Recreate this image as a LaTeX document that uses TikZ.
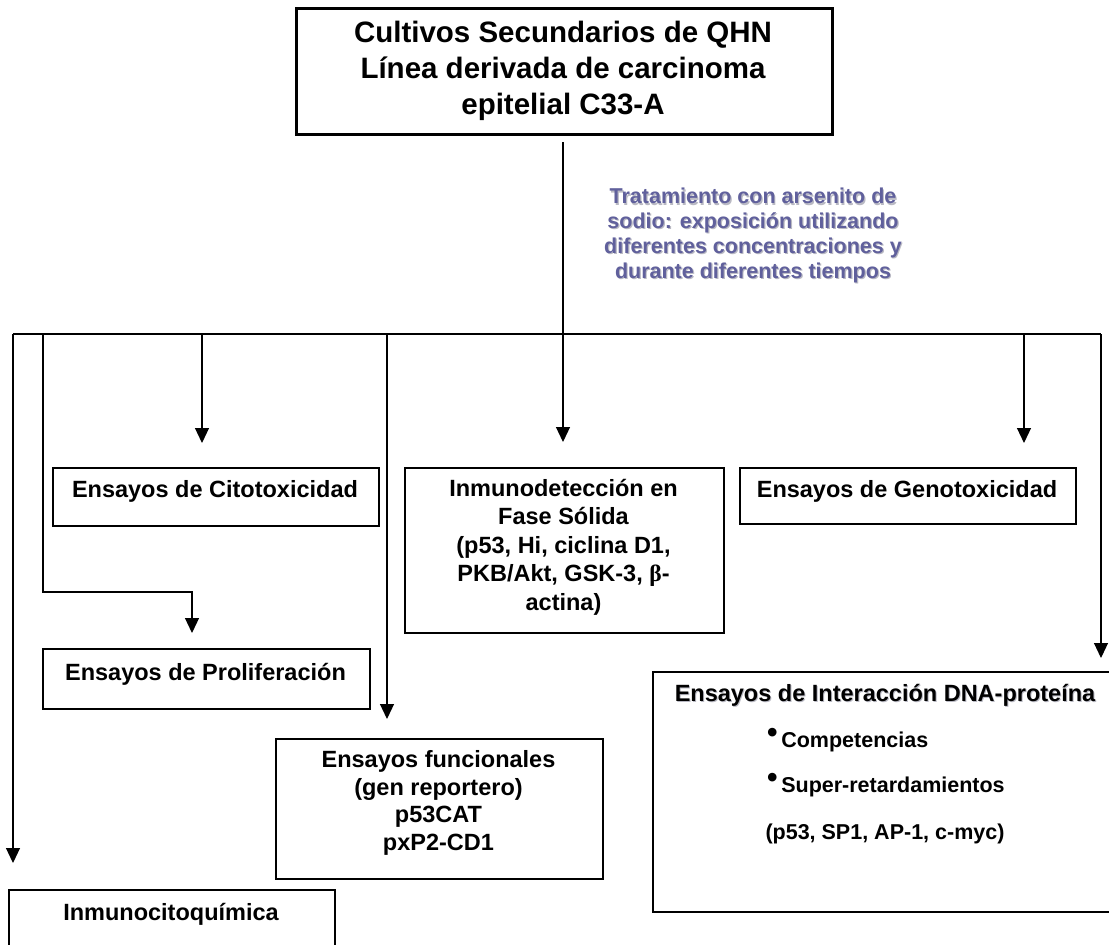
\documentclass[tikz,border=0pt]{standalone}
\usepackage{fontspec}
\setmainfont{Liberation Sans}
\newfontfamily\symf{Liberation Serif}
\usetikzlibrary{arrows.meta}
\definecolor{tblue}{RGB}{96,96,156}
\definecolor{shade}{RGB}{185,185,195}
\newcommand{\bigbul}{\raisebox{0.2em}{\fontsize{30}{30}\selectfont•}}
\begin{document}
\begin{tikzpicture}[x=1pt,y=-1pt,
  box/.style={draw, line width=2.4pt, rectangle, inner sep=0pt, anchor=north west},
  conn/.style={line width=1.2pt},
  arr/.style={line width=1.2pt, -{Triangle[width=14pt,length=15pt]}},
  txt/.style={align=center, inner sep=0pt, font=\fontsize{23.5}{28.5}\selectfont\bfseries},
  sm/.style={align=center, inner sep=0pt, font=\fontsize{21.5}{24.8}\selectfont\bfseries}]
\useasboundingbox[fill=white] (0,0) rectangle (1109,945);

% boxes
\node[box, line width=3.2pt, minimum width=536pt, minimum height=126pt] (top) at (295,7) {};
\node[box, minimum width=326pt, minimum height=58pt] (cito) at (52,467) {};
\node[box, minimum width=327pt, minimum height=60pt] (prolif) at (42,648) {};
\node[box, minimum width=319pt, minimum height=165pt] (inmdet) at (404,467) {};
\node[box, minimum width=336pt, minimum height=56pt] (geno) at (739,467) {};
\node[box, minimum width=327pt, minimum height=140pt] (func) at (275,738) {};
\node[box, minimum width=466pt, minimum height=240pt] (dna) at (652,671) {};
\node[box, minimum width=326pt, minimum height=86pt] (icq) at (8,889) {};

% texts
\node[txt, font=\fontsize{29.5}{36}\selectfont\bfseries] (toptext) at (563,71)
  {Cultivos Secundarios de QHN\\Línea derivada de carcinoma\\epitelial C33-A};
\node[sm, text=shade] (trshadow) at (754.2,236.7)
  {Tratamiento con arsenito de\\sodio: exposición utilizando\\diferentes concentraciones y\\durante diferentes tiempos};
\node[sm, text=tblue] (trat) at (753,235.5)
  {Tratamiento con arsenito de\\sodio: exposición utilizando\\diferentes concentraciones y\\durante diferentes tiempos};
\node[txt] (citotext) at (215,491) {Ensayos de Citotoxicidad};
\node[txt] (genotext) at (907,491) {Ensayos de Genotoxicidad};
\node[txt] (proltext) at (205.5,674) {Ensayos de Proliferación};
\node[txt] (inmtext) at (563.5,547)
  {Inmunodetección en\\Fase Sólida\\(p53, Hi, ciclina D1,\\PKB/Akt, GSK-3, {\symf β}-\\actina)};
\node[txt, font=\fontsize{23.5}{27.5}\selectfont\bfseries] (functext) at (438.5,803)
  {Ensayos funcionales\\(gen reportero)\\p53CAT\\pxP2-CD1};
\node[txt] (icqtext) at (171,914) {Inmunocitoquímica};
\node[txt, text=shade] (dnashadow) at (886,696) {Ensayos de Interacción DNA-proteína};
\node[txt] (dnatext) at (885,695) {Ensayos de Interacción DNA-proteína};
\node[sm, anchor=base west] (comp) at (767,747) {\bigbul\,Competencias};
\node[sm, anchor=base west] (super) at (767,792) {\bigbul\,Super-retardamientos};
\node[sm, anchor=base] (prot) at (885,839) {(p53, SP1, AP-1, c-myc)};

% connectors
\coordinate (s) at (563,142);
\coordinate (bl) at (13,334);
\coordinate (br) at (1101,334);
\coordinate (b2) at (43,334);
\coordinate (b3) at (202,334);
\coordinate (b4) at (387,334);
\coordinate (b5) at (1024,334);
\coordinate (e2) at (43,592);
\coordinate (e2b) at (192,592);
\coordinate (t1) at (13,863);
\coordinate (t2) at (192,633);
\coordinate (t3) at (202,443);
\coordinate (t4) at (387,719);
\coordinate (t5) at (563,442);
\coordinate (t6) at (1024,443);
\coordinate (t7) at (1101,658);

\draw[conn] (bl) -- (br);
\draw[arr] (s) -- (t5);
\draw[arr] (bl) -- (t1);
\draw[arr] (b2) -- (e2) -- (e2b) -- (t2);
\draw[arr] (b3) -- (t3);
\draw[arr] (b4) -- (t4);
\draw[arr] (b5) -- (t6);
\draw[arr] (br) -- (t7);
\end{tikzpicture}
\end{document}
